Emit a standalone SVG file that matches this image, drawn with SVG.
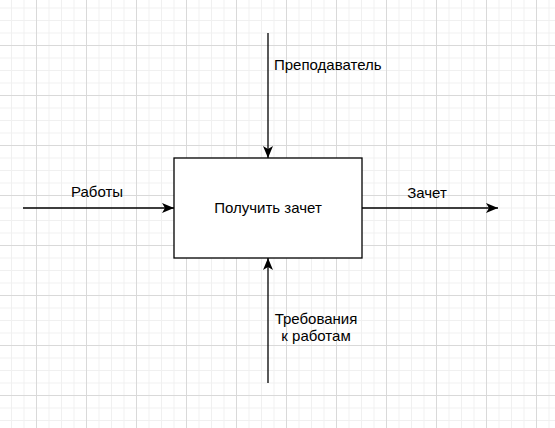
<svg xmlns="http://www.w3.org/2000/svg" width="555" height="428" viewBox="0 0 555 428">
<defs>
<pattern id="minor" x="11" y="7.5" width="12.5" height="12.5" patternUnits="userSpaceOnUse">
<path d="M0.5 0V12.5M0 0.5H12.5" fill="none" stroke="#f0f0f0" stroke-width="1"/>
</pattern>
<pattern id="major" x="36" y="45" width="50" height="50" patternUnits="userSpaceOnUse">
<path d="M0.5 0V50M0 0.5H50" fill="none" stroke="#d9d9d9" stroke-width="1"/>
</pattern>
<marker id="arr" viewBox="0 0 12 10" refX="12" refY="5" markerWidth="12" markerHeight="10" markerUnits="userSpaceOnUse" orient="auto">
<path d="M0 0L12 5L0 10L3 5Z" fill="#000"/>
</marker>
</defs>
<style>
.lbl{font-family:"Liberation Sans",Arial,sans-serif;font-size:15px;fill:#000}
.c{text-anchor:middle}
.edge{fill:none;stroke:#000;stroke-width:1.3;marker-end:url(#arr)}
</style>
<rect width="555" height="428" fill="#fff"/>
<rect width="555" height="428" fill="url(#minor)"/>
<rect width="555" height="428" fill="url(#major)"/>
<g id="connectors">
<path class="edge" d="M268 33V158"/>
<path class="edge" d="M268 383V258"/>
<path class="edge" d="M23 208H174"/>
<path class="edge" d="M362 208H498"/>
</g>
<g id="node-main">
<rect x="174" y="158" width="188" height="100" fill="#fff" stroke="#000" stroke-width="1.3"/>
<text class="lbl c" x="268" y="213">Получить зачет</text>
</g>
<g id="label-teacher"><text class="lbl" x="274" y="70">Преподаватель</text></g>
<g id="label-works"><text class="lbl c" x="97" y="197">Работы</text></g>
<g id="label-result"><text class="lbl c" x="427" y="198">Зачет</text></g>
<g id="label-req"><text class="lbl c" x="316" y="324">Требования</text><text class="lbl c" x="316" y="341">к работам</text></g>
</svg>
